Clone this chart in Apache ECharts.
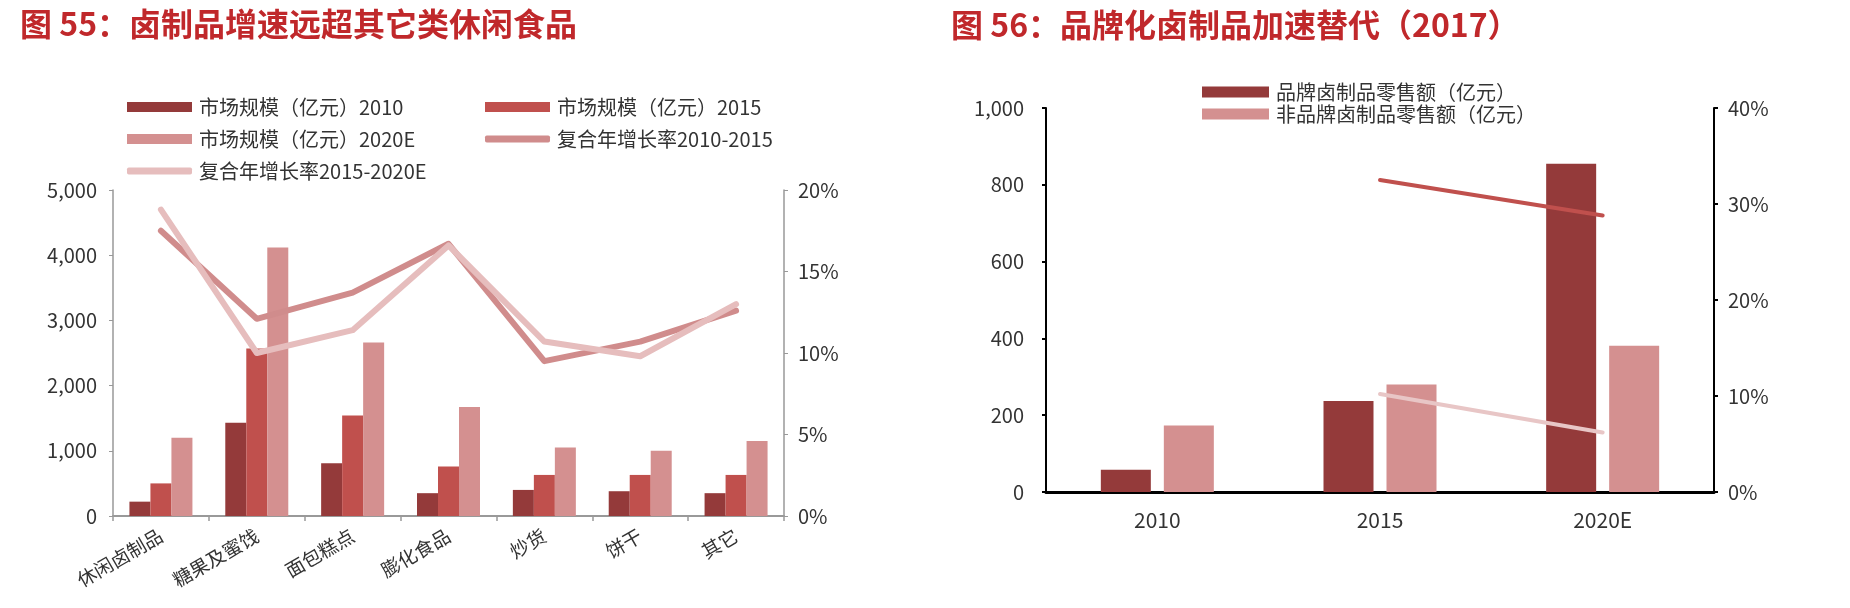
<!DOCTYPE html>
<html><head><meta charset="utf-8">
<script src="https://cdn.jsdelivr.net/npm/echarts@6/dist/echarts.min.js"></script>
<style>html,body{margin:0;padding:0;background:#fff}#c{width:1850px;height:608px}</style>
</head><body><div id="c"></div>
<script>
// ---- data: left chart (图55) ----
const leftCategories = ['休闲卤制品','糖果及蜜饯','面包糕点','膨化食品','炒货','饼干','其它'];
const size2010  = [220, 1430, 810, 350, 400, 380, 350];
const size2015  = [500, 2570, 1540, 760, 630, 630, 630];
const size2020E = [1200, 4120, 2660, 1670, 1050, 1000, 1150];
const cagr1015  = [17.5, 12.1, 13.7, 16.7, 9.5, 10.7, 12.6];
const cagr1520  = [18.8, 10.0, 11.4, 16.6, 10.7, 9.8, 13.0];
const leftAxisRange  = [0, 5000, 1000];
const leftPctRange   = [0, 20, 5];
// ---- data: right chart (图56) ----
const rightCategories = ['2010', '2015', '2020E'];
const brandSales    = [58, 237, 855];
const nonBrandSales = [173, 280, 381];
const brandCagr     = [null, 32.5, 28.8];
const nonBrandCagr  = [null, 10.2, 6.2];
const rightAxisRange = [0, 1000, 200];
const rightPctRange  = [0, 40, 10];

const names = {
  s10: '市场规模（亿元）2010', s15: '市场规模（亿元）2015', s20: '市场规模（亿元）2020E',
  c1: '复合年增长率2010-2015', c2: '复合年增长率2015-2020E',
  b: '品牌卤制品零售额（亿元）', nb: '非品牌卤制品零售额（亿元）'
};
const FONT = "'Liberation Sans Narrow','Noto Sans CJK SC',sans-serif";
const C_DARK = '#943a3a', C_MID = '#c0504d', C_LIGHT = '#d49090';
const C_L1 = '#d08c8c', C_L2 = '#e6bdbd';
const C_RL1 = '#c0504d', C_RL2 = '#e8c6c6';
const TXT = '#333333';
const comma = v => Number(v).toLocaleString('en-US');

function lg(name, left, top, w, h, icon, fs) {
  return { data: [{ name, icon }], left, top, padding: 0, itemGap: 0, itemWidth: w, itemHeight: h,
    textStyle: { fontFamily: FONT, fontSize: fs, color: TXT, padding: [0, 0, 0, 2] } };
}

const chart = echarts.init(document.getElementById('c'), null, { renderer: 'canvas' });
chart.setOption({
  animation: false,
  backgroundColor: '#fff',
  graphic: [
    { type: 'text', x: 20, y: 24, style: { text: '图 55：卤制品增速远超其它类休闲食品', font: "bold 32px 'Noto Sans CJK SC'", fill: '#c0282b', verticalAlign: 'middle' } },
    { type: 'text', x: 951, y: 25, style: { text: '图 56：品牌化卤制品加速替代（2017）', font: "bold 32px 'Noto Sans CJK SC'", fill: '#c0282b', verticalAlign: 'middle' } }
  ],
  legend: [
    lg(names.s10, 127, 97, 65, 10, 'rect', 20),
    lg(names.s15, 485, 97, 65, 10, 'rect', 20),
    lg(names.s20, 127, 129, 65, 10, 'rect', 20),
    lg(names.c1, 485, 129, 65, 7, 'roundRect', 20),
    lg(names.c2, 127, 161, 65, 7, 'roundRect', 20),
    lg(names.b, 1202, 82, 67, 11, 'rect', 20),
    lg(names.nb, 1202, 104, 67, 11, 'rect', 20)
  ],
  grid: [
    { left: 113, right: 1066, top: 190, bottom: 92 },
    { left: 1046, right: 136, top: 108, bottom: 116 }
  ],
  xAxis: [
    { type: 'category', gridIndex: 0, data: leftCategories,
      axisLine: { lineStyle: { color: '#999', width: 2 } },
      axisTick: { show: true, length: 5, lineStyle: { color: '#999', width: 1.5 } },
      axisLabel: { interval: 0, rotate: 30, margin: 18, fontFamily: FONT, fontSize: 19, color: TXT } },
    { type: 'category', gridIndex: 1, data: rightCategories,
      axisLine: { lineStyle: { color: '#000', width: 3 } },
      axisTick: { show: false },
      axisLabel: { margin: 18, fontFamily: FONT, fontSize: 21, color: TXT } }
  ],
  yAxis: [
    { type: 'value', gridIndex: 0, min: leftAxisRange[0], max: leftAxisRange[1], interval: leftAxisRange[2],
      axisLine: { show: true, lineStyle: { color: '#999', width: 1.5 } },
      axisTick: { show: true, length: 4, lineStyle: { color: '#999' } },
      splitLine: { show: false },
      axisLabel: { formatter: comma, margin: 16, fontFamily: FONT, fontSize: 20, color: TXT } },
    { type: 'value', gridIndex: 0, position: 'right', min: leftPctRange[0], max: leftPctRange[1], interval: leftPctRange[2],
      axisLine: { show: true, lineStyle: { color: '#999', width: 1.5 } },
      axisTick: { show: true, length: 4, lineStyle: { color: '#999' } },
      splitLine: { show: false },
      axisLabel: { formatter: '{value}%', margin: 14, fontFamily: FONT, fontSize: 20, color: TXT } },
    { type: 'value', gridIndex: 1, min: rightAxisRange[0], max: rightAxisRange[1], interval: rightAxisRange[2],
      axisLine: { show: true, lineStyle: { color: '#000', width: 2 } },
      axisTick: { show: true, length: 4, lineStyle: { color: '#000', width: 2 } },
      splitLine: { show: false },
      axisLabel: { formatter: comma, margin: 22, fontFamily: FONT, fontSize: 20, color: TXT } },
    { type: 'value', gridIndex: 1, position: 'right', min: rightPctRange[0], max: rightPctRange[1], interval: rightPctRange[2],
      axisLine: { show: true, lineStyle: { color: '#000', width: 2 } },
      axisTick: { show: true, length: 4, lineStyle: { color: '#000', width: 2 } },
      splitLine: { show: false },
      axisLabel: { formatter: '{value}%', margin: 14, fontFamily: FONT, fontSize: 20, color: TXT } }
  ],
  series: [
    { name: names.s10, type: 'bar', xAxisIndex: 0, yAxisIndex: 0, data: size2010, barWidth: 21, barGap: '0%', itemStyle: { color: C_DARK } },
    { name: names.s15, type: 'bar', xAxisIndex: 0, yAxisIndex: 0, data: size2015, barWidth: 21, barGap: '0%', itemStyle: { color: C_MID } },
    { name: names.s20, type: 'bar', xAxisIndex: 0, yAxisIndex: 0, data: size2020E, barWidth: 21, barGap: '0%', itemStyle: { color: C_LIGHT } },
    { name: names.c1, type: 'line', xAxisIndex: 0, yAxisIndex: 1, data: cagr1015, symbol: 'none', showSymbol: false,
      itemStyle: { color: C_L1 }, lineStyle: { color: C_L1, width: 6, cap: 'round', join: 'round' } },
    { name: names.c2, type: 'line', xAxisIndex: 0, yAxisIndex: 1, data: cagr1520, symbol: 'none', showSymbol: false,
      itemStyle: { color: C_L2 }, lineStyle: { color: C_L2, width: 6, cap: 'round', join: 'round' } },
    { name: names.b, type: 'bar', xAxisIndex: 1, yAxisIndex: 2, data: brandSales, barWidth: 50, barGap: '26%', itemStyle: { color: C_DARK } },
    { name: names.nb, type: 'bar', xAxisIndex: 1, yAxisIndex: 2, data: nonBrandSales, barWidth: 50, barGap: '26%', itemStyle: { color: C_LIGHT } },
    { name: 'brandCagr', type: 'line', xAxisIndex: 1, yAxisIndex: 3, data: brandCagr, symbol: 'none', showSymbol: false,
      lineStyle: { color: C_RL1, width: 4, cap: 'round' }, itemStyle: { color: C_RL1 } },
    { name: 'nonBrandCagr', type: 'line', xAxisIndex: 1, yAxisIndex: 3, data: nonBrandCagr, symbol: 'none', showSymbol: false,
      lineStyle: { color: C_RL2, width: 4, cap: 'round' }, itemStyle: { color: C_RL2 } }
  ]
});
</script></body></html>
